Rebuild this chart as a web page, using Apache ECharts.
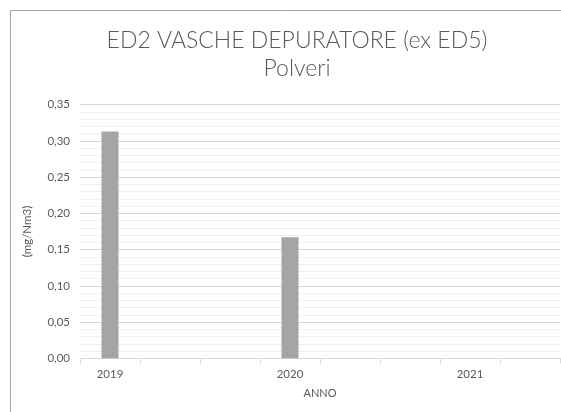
<!DOCTYPE html>
<html>
<head>
<meta charset="utf-8">
<script src="https://cdn.jsdelivr.net/npm/echarts@6/dist/echarts.min.js"></script>
<style>
  html, body { margin: 0; padding: 0; background: #fff; }
  #chart { width: 561px; height: 412px; }
</style>
</head>
<body>
<div id="chart"></div>
<script>
// Sampling slots along the year axis; only every third slot carries a visible year label
const categories = ['2019', '2019', '2019', '2020', '2020', '2020', '2021', '2021'];
// Dust concentration (mg/Nm3) per slot; null = no measurement
const polveri = [0.313, null, null, 0.167, null, null, null, null];
const yTicks = [0, 0.05, 0.10, 0.15, 0.20, 0.25, 0.30, 0.35];

const FONT = 'Lato, "Open Sans", sans-serif';
const TEXT = '#595959';

const chart = echarts.init(document.getElementById('chart'), null, { renderer: 'canvas' });
chart.setOption({
  animation: false,
  backgroundColor: '#ffffff',
  title: {
    text: 'ED2 VASCHE DEPURATORE (ex ED5)\nPolveri',
    left: 292,
    top: 22,
    textAlign: 'center',
    textStyle: {
      fontFamily: FONT,
      fontWeight: 300,
      fontSize: 23,
      lineHeight: 28,
      color: TEXT
    }
  },
  graphic: [{
    type: 'rect',
    shape: { x: 10.5, y: 10.5, width: 600, height: 450 },
    style: { fill: null, stroke: '#a6a6a6', lineWidth: 1 },
    silent: true,
    z: 100
  }],
  grid: { left: 80, right: 1, top: 104.7, bottom: 53.7 },
  xAxis: {
    type: 'category',
    data: categories,
    boundaryGap: true,
    name: 'ANNO',
    nameLocation: 'middle',
    nameGap: 30,
    nameTextStyle: { fontFamily: FONT, fontSize: 11, color: TEXT },
    axisLine: { lineStyle: { color: '#d9d9d9' } },
    axisTick: { show: true, interval: 0, length: 5, lineStyle: { color: '#d9d9d9' } },
    axisLabel: { interval: 2, margin: 10, fontFamily: FONT, fontSize: 11.5, color: TEXT },
    splitLine: { show: false }
  },
  yAxis: {
    type: 'value',
    min: yTicks[0],
    max: yTicks[yTicks.length - 1],
    interval: 0.05,
    name: '(mg/Nm3)',
    nameLocation: 'middle',
    nameGap: 47,
    nameTextStyle: { fontFamily: FONT, fontSize: 11.5, color: TEXT },
    axisLine: { show: false },
    axisTick: { show: false },
    axisLabel: {
      margin: 10,
      fontFamily: FONT,
      fontSize: 11.5,
      color: TEXT,
      formatter: v => v.toFixed(2).replace('.', ',')
    },
    splitLine: { show: true, lineStyle: { color: '#d9d9d9', width: 1 } },
    minorTick: { show: false, splitNumber: 5 },
    minorSplitLine: { show: true, lineStyle: { color: '#efefef', width: 1 } }
  },
  series: [{
    type: 'bar',
    data: polveri,
    barWidth: 17,
    itemStyle: { color: '#a5a5a5' }
  }]
});
</script>
</body>
</html>
